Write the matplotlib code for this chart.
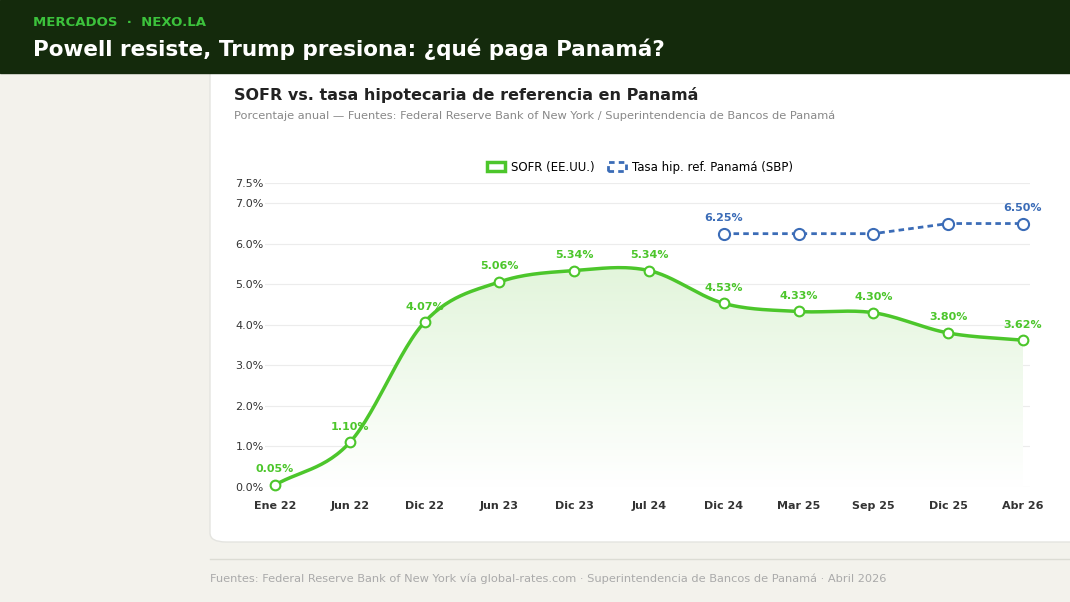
import matplotlib.pyplot as plt
import numpy as np
from matplotlib.patches import Rectangle, FancyBboxPatch, Polygon
from matplotlib.lines import Line2D
from matplotlib.colors import LinearSegmentedColormap

meses = ['Ene 22', 'Jun 22', 'Dic 22', 'Jun 23', 'Dic 23', 'Jul 24',
         'Dic 24', 'Mar 25', 'Sep 25', 'Dic 25', 'Abr 26']
sofr = [0.05, 1.10, 4.07, 5.06, 5.34, 5.34, 4.53, 4.33, 4.30, 3.80, 3.62]
hip_idx = [6, 7, 8, 9, 10]
hip = [6.25, 6.25, 6.25, 6.50, 6.50]

W, H = 1070, 602
verde = '#4cc62b'
azul = '#3b6cb7'

def catmull(x, y, n=30):
    x = np.asarray(x, float); y = np.asarray(y, float)
    px = np.concatenate([[2*x[0]-x[1]], x, [2*x[-1]-x[-2]]])
    py = np.concatenate([[2*y[0]-y[1]], y, [2*y[-1]-y[-2]]])
    xs, ys = [], []
    for i in range(1, len(px)-2):
        t = np.linspace(0, 1, n)
        for p, out in ((px, xs), (py, ys)):
            p0, p1, p2, p3 = p[i-1:i+3]
            out.extend(0.5*((2*p1) + (-p0+p2)*t + (2*p0-5*p1+4*p2-p3)*t**2 + (-p0+3*p1-3*p2+p3)*t**3))
    return np.array(xs), np.array(ys)

fig = plt.figure(figsize=(W/100, H/100), dpi=100)
fig.patch.set_facecolor('#f3f2ec')
fig.patches.append(FancyBboxPatch((210/W, 1-542/H), 880/W, 490/H, boxstyle='round,pad=0,rounding_size=0.015',
                                  transform=fig.transFigure, facecolor='white', edgecolor='#e4e4e0', zorder=-2))
fig.patches.append(Rectangle((0, 1-73/H), 1, 73/H, transform=fig.transFigure, color='#142a0c', zorder=-1))
fig.text(33/W, 1-22/H, 'MERCADOS  ·  NEXO.LA', color='#3cc23c', fontsize=9.5, fontweight='bold', va='center')
fig.text(33/W, 1-49/H, 'Powell resiste, Trump presiona: ¿qué paga Panamá?', color='white',
         fontsize=15.5, fontweight='bold', va='center')
fig.text(234/W, 1-95/H, 'SOFR vs. tasa hipotecaria de referencia en Panamá', color='#222222',
         fontsize=11.5, fontweight='bold', va='center')
fig.text(234/W, 1-116/H, 'Porcentaje anual — Fuentes: Federal Reserve Bank of New York / Superintendencia de Bancos de Panamá',
         color='#888888', fontsize=8.2, va='center')
fig.add_artist(Line2D([210/W, 1070/W], [1-559/H, 1-559/H], color='#dcdcd4', lw=1))
fig.text(210/W, 1-579/H, 'Fuentes: Federal Reserve Bank of New York vía global-rates.com · Superintendencia de Bancos de Panamá · Abril 2026',
         color='#aaaaaa', fontsize=8.2, va='center')

ax = fig.add_axes([265/W, 1-487/H, 765/W, 304/H])
ax.set_zorder(1)
ax.set_facecolor('none')
x = np.arange(len(meses))
ax.set_xlim(-10/74.8, 10+7/74.8)
ax.set_ylim(0, 7.5)
ticks = [0, 1, 2, 3, 4, 5, 6, 7, 7.5]
ax.set_yticks(ticks)
ax.set_yticklabels([f'{t:.1f}%' for t in ticks], fontsize=8, color='#333333')
ax.set_xticks(x)
ax.set_xticklabels(meses, fontsize=8, fontweight='bold', color='#333333')
ax.tick_params(axis='x', length=0, pad=10)
ax.tick_params(axis='y', length=0, pad=1)
for t in ticks:
    ax.axhline(t, color='#ececec', lw=0.8, zorder=0)
for s in ax.spines.values():
    s.set_visible(False)

sx, sy = catmull(x, sofr)
# relleno en degradado bajo la curva
cmap = LinearSegmentedColormap.from_list('g', ['#ffffff', '#e3f5dc'])
grad = np.linspace(0, 1, 256).reshape(-1, 1)
im = ax.imshow(grad, cmap=cmap, aspect='auto', origin='lower',
               extent=[sx.min(), sx.max(), 0, max(sofr)], zorder=1)
poly = Polygon(np.column_stack([np.r_[sx, sx[-1], sx[0]], np.r_[sy, 0, 0]]), transform=ax.transData,
               facecolor='none', edgecolor='none')
ax.add_patch(poly)
im.set_clip_path(poly)
ax.set_xlim(-10/74.8, 10+7/74.8)
ax.set_ylim(0, 7.5)

ax.plot(sx, sy, color=verde, lw=2.5, clip_on=False, zorder=3)
ax.plot(x, sofr, 'o', ms=7, mfc='white', mec=verde, mew=1.5, clip_on=False, zorder=4)
for xi, v in zip(x, sofr):
    ax.annotate(f'{v:.2f}%', (xi, v), xytext=(0, 9), textcoords='offset points', ha='center',
                fontsize=8, fontweight='bold', color=verde)

ax.plot(hip_idx, hip, color=azul, lw=2, ls=(0, (2, 1.5)), zorder=3)
ax.plot(hip_idx, hip, 'o', ms=8, mfc='white', mec=azul, mew=1.5, zorder=4)
for i in (0, len(hip)-1):
    ax.annotate(f'{hip[i]:.2f}%', (hip_idx[i], hip[i]), xytext=(0, 9), textcoords='offset points',
                ha='center', fontsize=8, fontweight='bold', color=azul)

h1 = Rectangle((0, 0), 1, 1, facecolor='white', edgecolor=verde, lw=2.5)
h2 = Rectangle((0, 0), 1, 1, facecolor='white', edgecolor=azul, lw=2, ls=(0, (2, 1.5)))
fig.legend([h1, h2], ['SOFR (EE.UU.)', 'Tasa hip. ref. Panamá (SBP)'], loc='center',
           bbox_to_anchor=(640/W, 1-167/H), ncol=2, frameon=False, fontsize=8.5,
           handlelength=1.5, handleheight=0.9, columnspacing=1.2, handletextpad=0.5)

fig.savefig('out.png', dpi=100)
